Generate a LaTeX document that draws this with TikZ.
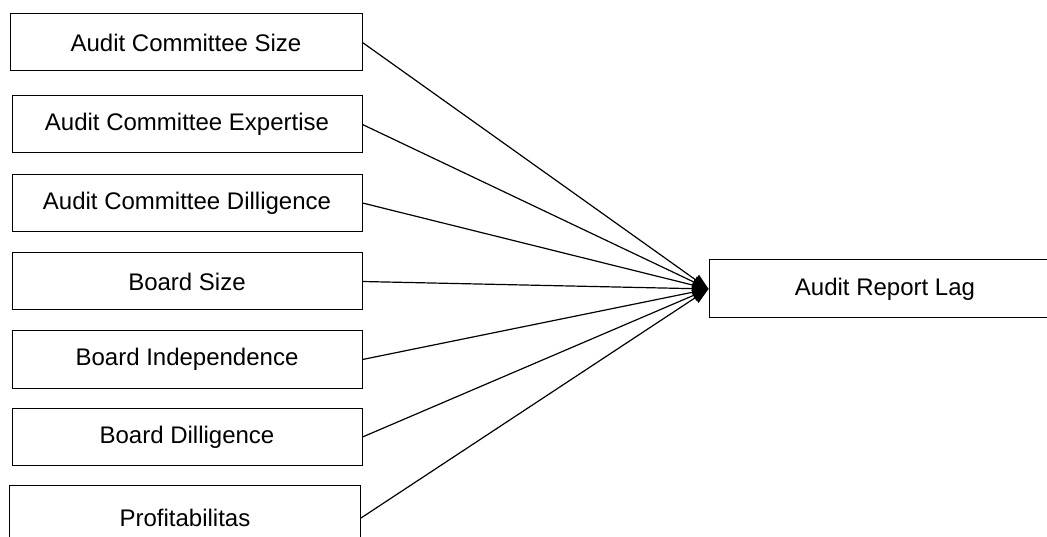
\documentclass[tikz,border=0pt]{standalone}
\usepackage{fontspec}
\setmainfont{Liberation Sans}
\usetikzlibrary{arrows.meta}
\begin{document}
\begin{tikzpicture}[x=1pt,y=-1pt,
  box/.style={draw, line width=1pt, minimum height=57pt, inner sep=0pt,
    font=\fontsize{24}{28}\selectfont},
  link/.style={line width=1.2pt, -{Triangle[length=16pt,width=12pt]}}]
\useasboundingbox (0,0) rectangle (1047,537);
\node[box, minimum width=352pt] (a) at (186,42.5) {Audit Committee Size};
\node[box, minimum width=350pt] (b) at (187,124.5) {Audit Committee Expertise};
\node[box, minimum width=350pt] (c) at (187,203) {Audit Committee Dilligence};
\node[box, minimum width=350pt] (d) at (187,281.5) {Board Size};
\node[box, minimum width=350pt] (e) at (187,359.5) {Board Independence};
\node[box, minimum width=350pt] (f) at (187,437) {Board Dilligence};
\node[box, minimum width=351pt, minimum height=66pt] (g) at (185,518) {Profitabilitas};
\node[box, minimum width=352pt, minimum height=58pt] (t) at (885,289) {Audit Report Lag};
\foreach \n in {a,b,c,d,e,f,g}
  \draw[link] (\n.east) -- (t.west);
\end{tikzpicture}
\end{document}
